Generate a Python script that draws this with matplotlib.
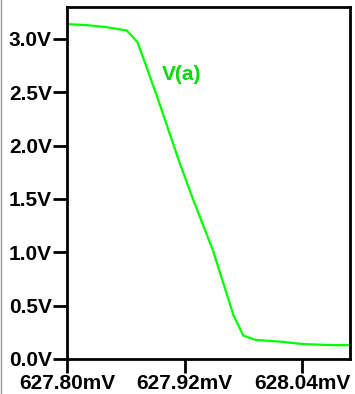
import matplotlib
matplotlib.use("Agg")
import matplotlib.pyplot as plt
from matplotlib.lines import Line2D

# sweep values (mV) and node voltage V(a) (V)
sweep_mv = [627.800, 627.820, 627.841, 627.861, 627.872, 627.878, 627.892,
            627.915, 627.929, 627.949, 627.970, 627.980, 627.992, 628.021,
            628.041, 628.072, 628.089]
v_a = [3.14, 3.13, 3.11, 3.08, 2.97, 2.82, 2.46, 1.84, 1.49, 1.02, 0.41,
       0.22, 0.18, 0.16, 0.14, 0.13, 0.13]

x_ticks = [627.80, 627.92, 628.04]
x_labels = ["627.80mV", "627.92mV", "628.04mV"]
y_ticks = [0.0, 0.5, 1.0, 1.5, 2.0, 2.5, 3.0]
y_labels = ["0.0V", "0.5V", "1.0V", "1.5V", "2.0V", "2.5V", "3.0V"]

plt.rcParams['font.family'] = ['Liberation Sans', 'DejaVu Sans']

fig = plt.figure(figsize=(3.55, 3.94), dpi=100)
ax = fig.add_axes([67 / 355, 35 / 394, 283 / 355, 352 / 394])

ax.plot(sweep_mv, v_a, color="#00ff00", lw=1.6)
ax.text(0.336, 0.807, "V(a)", transform=ax.transAxes, color="#00dd00",
        fontsize=15, fontweight="bold", ha="left", va="center")

ax.set_xlim(627.80, 628.089)
ax.set_ylim(0, 3.30)
ax.set_xticks(x_ticks)
ax.set_xticklabels(x_labels)
ax.set_yticks(y_ticks)
ax.set_yticklabels(y_labels)

for spine in ax.spines.values():
    spine.set_linewidth(2)
    spine.set_color("black")
ax.tick_params(direction="out", length=10, width=2, pad=1,
               labelsize=15, colors="black")
for lab in ax.get_xticklabels() + ax.get_yticklabels():
    lab.set_fontweight("bold")

# thin gray frame on the left edge of the window
fig.add_artist(Line2D([1.5 / 355, 1.5 / 355], [0, 1], color="#999999", lw=1))

fig.savefig("out.png", dpi=100)
